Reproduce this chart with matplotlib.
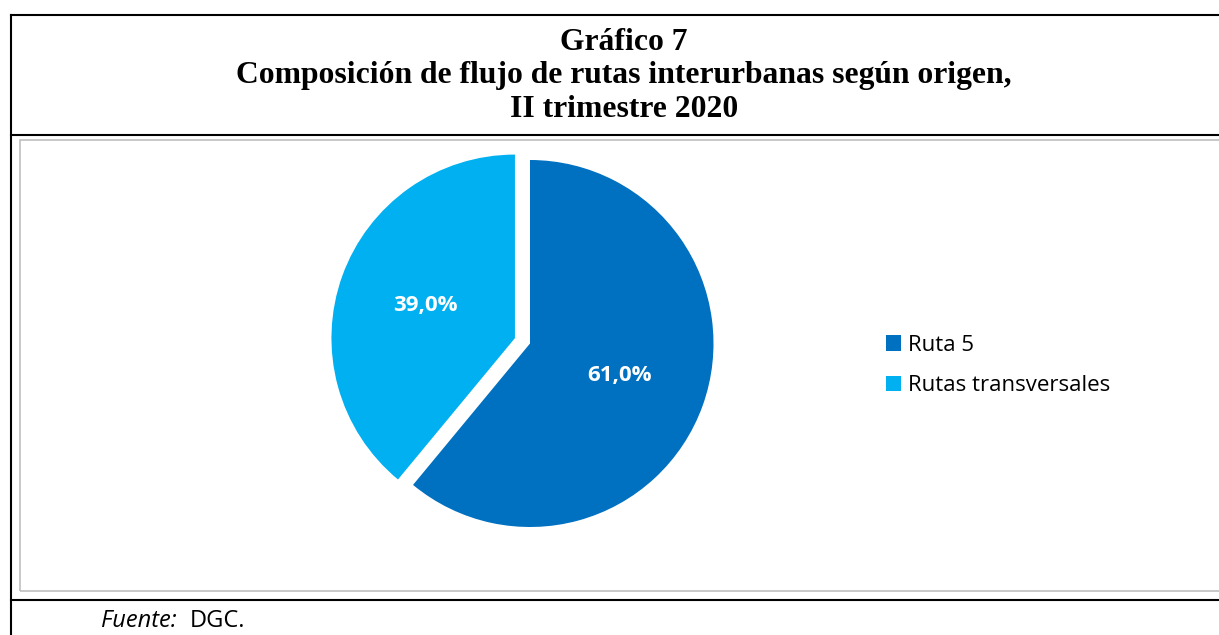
import matplotlib
matplotlib.use("Agg")
import matplotlib.pyplot as plt
from matplotlib.lines import Line2D
from matplotlib.patches import Rectangle, Patch

W, H = 1219, 635
categories = ["Ruta 5", "Rutas transversales"]
values = [61.0, 39.0]
colors = ["#0070C0", "#00B0F0"]
title_lines = ["Gráfico 7", "Composición de flujo de rutas interurbanas según origen,", "II trimestre 2020"]

fig = plt.figure(figsize=(W / 100, H / 100), dpi=100)

def fx(x):
    return x / W

def fy(y):
    return 1 - y / H

lw_black = 1.5
# outer frame lines
fig.add_artist(Line2D([fx(11), fx(11)], [fy(15), fy(H + 5)], color="black", lw=lw_black))
for yy in (15, 135, 600):
    fig.add_artist(Line2D([fx(11), fx(W + 5)], [fy(yy), fy(yy)], color="black", lw=lw_black))
# inner chart-area border
fig.add_artist(Rectangle((fx(20), fy(591)), fx(W + 10) - fx(20), fy(140) - fy(591),
                         transform=fig.transFigure, fill=False, edgecolor="#BFBFBF", lw=1.2))

# title
for i, t in enumerate(title_lines):
    fig.text(fx(624), fy(42.5 + 33.5 * i), t, ha="center", va="center",
             fontsize=22.8, fontweight="bold", family="Liberation Serif")

# pie
cx, cy, r = 530, 343.5, 183.5
half = 230
ax = fig.add_axes([fx(cx - half), fy(cy + half), 2 * half / W, 2 * half / H])
wedges, texts, autotexts = ax.pie(values, colors=colors, startangle=90, counterclock=False,
                                  explode=[0, 16 / r], autopct=lambda p: f"{p:.1f}%".replace(".", ","),
                                  pctdistance=0.52, wedgeprops=dict(linewidth=0),
                                  textprops=dict(color="white", fontsize=16, fontweight="bold",
                                                 family="Open Sans"))
lim = half / r
ax.set_xlim(-lim, lim)
ax.set_ylim(-lim, lim)
ax.set_aspect("equal")
ax.axis("off")

# legend
handles = [Patch(facecolor=c, edgecolor="none") for c in colors]
fig.legend(handles, categories, loc="center left", bbox_to_anchor=(fx(886), fy(365.5)),
           frameon=False, prop=dict(family="Open Sans", size=16),
           handlelength=0.68, handleheight=0.68, handletextpad=0.32, labelspacing=0.88,
           borderaxespad=0, borderpad=0)

# footnote
fig.text(fx(101), fy(621), "Fuente:", ha="left", va="center", fontsize=17,
         style="italic", family="Open Sans")
fig.text(fx(190), fy(621), "DGC.", ha="left", va="center", fontsize=17, family="Open Sans")

fig.savefig("out.png", dpi=100)
